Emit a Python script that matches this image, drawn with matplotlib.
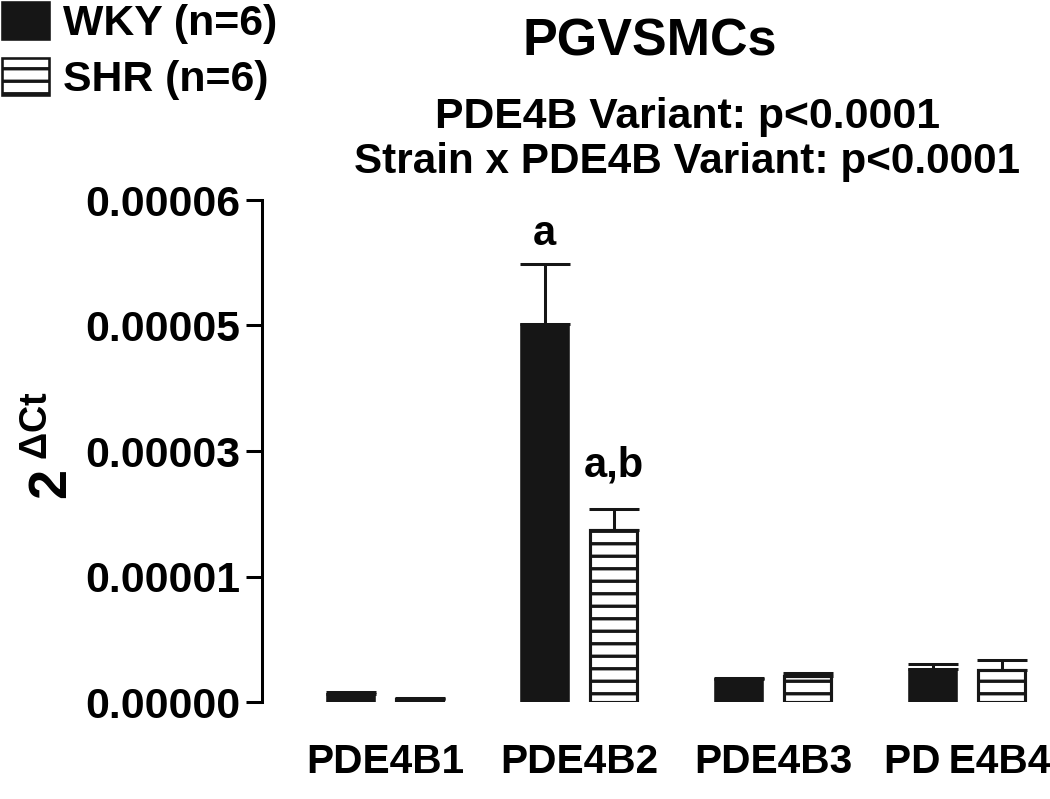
import numpy as np
import matplotlib
matplotlib.use("Agg")
import matplotlib.pyplot as plt
from matplotlib.patches import Patch

# data
variants = ["PDE4B1", "PDE4B2", "PDE4B3", "PD\u2009E4B4"]
wky_mean = [0.10e-5, 4.52e-5, 0.27e-5, 0.40e-5]
wky_sem = [0.02e-5, 0.71e-5, 0.02e-5, 0.05e-5]
shr_mean = [0.04e-5, 2.06e-5, 0.31e-5, 0.38e-5]
shr_sem = [0.01e-5, 0.25e-5, 0.04e-5, 0.12e-5]
yticks = [0.0, 1.5e-5, 3.0e-5, 4.5e-5, 6.0e-5]
ytick_labels = ["0.00000", "0.00001", "0.00003", "0.00005", "0.00006"]
sig_labels = ["a", "a,b"]

plt.rcParams["font.family"] = ["Liberation Sans", "DejaVu Sans"]
plt.rcParams["font.weight"] = "bold"
plt.rcParams["hatch.linewidth"] = 3.2
plt.rcParams["hatch.color"] = "black"
plt.rcParams["mathtext.fontset"] = "custom"
plt.rcParams["mathtext.rm"] = "Liberation Sans"
plt.rcParams["mathtext.bf"] = "Liberation Sans:bold"

W, H, DPI = 1050, 799, 75
fig = plt.figure(figsize=(W / DPI, H / DPI), dpi=DPI)
ax = fig.add_axes([262 / W, 1 - 702 / H, (1045 - 262) / W, (702 - 200) / H])

x = np.arange(len(variants))
off = 0.178
bw = 0.242
ink = "#161616"

ax.bar(x - off, wky_mean, bw, color=ink, edgecolor=ink, linewidth=2.5,
       yerr=[np.zeros(4), wky_sem], capsize=24,
       error_kw=dict(elinewidth=2.9, capthick=2.9, ecolor=ink))
ax.bar(x + off, shr_mean, bw, color="white", edgecolor=ink, linewidth=3.0,
       hatch="-", yerr=[np.zeros(4), shr_sem], capsize=24,
       error_kw=dict(elinewidth=2.9, capthick=2.9, ecolor=ink))

# significance letters over PDE4B2
ax.annotate(sig_labels[0], (x[1] - off, wky_mean[1] + wky_sem[1]), xytext=(0, 19),
            textcoords="offset points", ha="center", va="baseline", fontsize=40, fontweight="bold")
ax.annotate(sig_labels[1], (x[1] + off, shr_mean[1] + shr_sem[1]), xytext=(0, 31),
            textcoords="offset points", ha="center", va="baseline", fontsize=40, fontweight="bold")

ax.set_xlim(-0.634, 3.40)
ax.set_ylim(0, 6e-5)
ax.set_yticks(yticks)
ax.set_yticklabels(ytick_labels, fontsize=41, fontweight="bold")
ax.set_xticks(x)
ax.set_xticklabels(variants, fontsize=39, fontweight="bold")
ax.tick_params(axis="x", length=0, pad=39)
ax.tick_params(axis="y", length=15, width=2.9, pad=6)
for s in ["top", "right", "bottom"]:
    ax.spines[s].set_visible(False)
ax.spines["left"].set_linewidth(2.9)

ax.set_ylabel(r"$\mathbf{2}\,{}^{\Delta\mathbf{Ct}}$", fontsize=52, labelpad=6, y=0.51)

fig.text(650 / W, 1 - 42 / H, "PGVSMCs", ha="center", va="center", fontsize=50, fontweight="bold")
fig.text(688 / W, 1 - 117 / H, "PDE4B Variant: p<0.0001", ha="center", va="center",
         fontsize=41, fontweight="bold")
fig.text(687 / W, 1 - 162 / H, "Strain x PDE4B Variant: p<0.0001", ha="center", va="center",
         fontsize=40.5, fontweight="bold")

handles = [Patch(facecolor=ink, edgecolor=ink, linewidth=2.5),
           Patch(facecolor="white", edgecolor=ink, linewidth=2.5, hatch="-")]
fig.legend(handles, ["WKY (n=6)", "SHR (n=6)"], loc="upper left", bbox_to_anchor=(0, 1),
           frameon=False, borderpad=0.05, borderaxespad=0, handlelength=1.1,
           handleheight=0.95, handletextpad=0.33, labelspacing=0.32,
           prop=dict(weight="bold", size=41))

fig.savefig("out.png", dpi=DPI)
